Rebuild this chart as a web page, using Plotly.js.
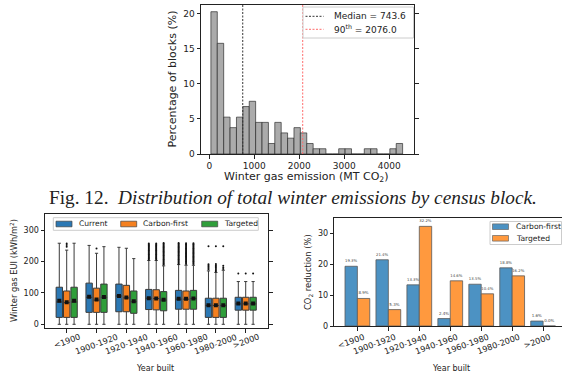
<!DOCTYPE html>
<html><head><meta charset="utf-8">
<script src="https://cdn.plot.ly/plotly-3.0.1.min.js"></script>
<style>html,body{margin:0;padding:0;background:#fff}#chart{width:562px;height:374px}</style>
</head><body><div id="chart"></div>
<script>
// ---------- Fig. 12 histogram ----------
const binCenters = [107,249,391,533,675,817,959,1101,1243,1385,1527,1669,1811,1953,2095,2237,2379,2521,2663,2805,2947,3089,3231,3373,3515,3657,3799,3941,4083,4225];
const binWidth = 142;
const blockPct = [20.30,15.79,5.26,3.76,5.26,6.77,7.52,4.51,4.51,1.50,4.51,3.01,2.26,3.76,3.01,1.50,0.75,0.75,0,0,0.75,0.75,0,0,0.75,0.75,0,0,0.75,1.50];
const medianValue = 743.6;
const p90Value = 2076.0;

// ---------- box plot ----------
const yearBins = ['<1900','1900-1920','1920-1940','1940-1960','1960-1980','1980-2000','>2000'];
const seriesNames = ['Current','Carbon-first','Targeted'];
const curLow = [0,0,0,0,0,0,0];
const curQ1  = [22,38,40,47,48,22,45];
const curMed = [71,86,90,83,80,60,65];
const curQ3  = [118,131,128,111,108,83,86];
const curUp  = [258,251,245,203,190,170,136];
const curMean= [75,88,90,83,81,61,66];
const curOut = [[],[],[],
  [206,209,212,215,218,221,224,227,230,233,236,239,242,245,248,251,254,257],
  [193,196,199,202,205,208,211,214,217,220,223,226,229,232,235,238,241,244,247,250,253,256,259],
  [175,179,183,187,191,248],[162]];

const cfLow = [0,0,0,0,0,0,0];
const cfQ1  = [22,38,40,46,48,22,45];
const cfMed = [69,77,84,82,80,60,65];
const cfQ3  = [106,115,124,110,106,83,86];
const cfUp  = [236,226,242,203,188,165,136];
const cfMean= [70,79,85,82,81,61,66];
const cfOut = [[247,252,257],[241],[],
  [206,209,212,215,218,221,224,227,230,233,236,239,242,245,248,251,254,257],
  [192,195,198,201,204,207,210,213,216,219,222,225,228,231,234,237,240,243,246,249,252,255,258],
  [168,172,176,180,184,188,192,248],[162]];

const tgLow = [0,0,0,0,0,0,0];
const tgQ1  = [22,38,35,43,48,22,45];
const tgMed = [71,86,72,77,82,60,65];
const tgQ3  = [118,128,106,104,108,83,86];
const tgUp  = [258,247,209,186,188,172,136];
const tgMean= [75,87,73,78,82,61,66];
const tgOut = [[],[],[],
  [190,193,196,199,202,205,208,211,214,217,220,223,226,229,232,235,238,241,244,247,250,253,256,259],
  [192,195,198,201,204,207,210,213,216,219,222,225,228,231,234,237,240,243,246,249,252,255,258],
  [176,181,186,248],[162]];

// ---------- CO2 reduction bars ----------
const barNames = ['Carbon-first','Targeted'];
const carbonFirst = [19.3,21.4,13.3,2.4,13.5,18.8,1.6];
const targeted    = [8.9,5.3,32.2,14.6,10.4,16.2,0.0];

const W = 562, H = 374;
const fx = p => p / W;
const fy = p => 1 - p / H;
const FONT = 'DejaVu Sans, sans-serif';
const TXT = '#222';
const histYRange = [0, 21.3];

const C_BLUE = '#2b78b4', C_ORANGE = '#f5801f', C_GREEN = '#2f9e3a';
const B_BLUE = '#4c92c3', B_ORANGE = '#ff993e';
const boxLine = {color: '#3a3a3a', width: 1};

function mainBox(name, q1, med, q3, lo, up, color, grp) {
  return {type: 'box', name: name, x: yearBins, q1: q1, median: med, q3: q3,
    lowerfence: lo, upperfence: up, boxpoints: false,
    fillcolor: color, line: boxLine, whiskerwidth: 0.5,
    xaxis: 'x2', yaxis: 'y2', showlegend: false,
    offsetgroup: grp, alignmentgroup: 'eui', hoverinfo: 'skip'};
}
function pointBox(xs, ys, grp, marker) {
  return {type: 'box', x: xs, y: ys, boxpoints: 'all', jitter: 0, pointpos: 0,
    fillcolor: 'rgba(0,0,0,0)', line: {width: 0, color: 'rgba(0,0,0,0)'}, whiskerwidth: 0,
    marker: marker, xaxis: 'x2', yaxis: 'y2', showlegend: false,
    offsetgroup: grp, alignmentgroup: 'eui', hoverinfo: 'skip'};
}
function outlierBox(out, grp) {
  const xs = [], ys = [];
  out.forEach((arr, i) => arr.forEach(v => { xs.push(yearBins[i]); ys.push(v); }));
  return pointBox(xs, ys, grp, {color: '#111', size: 2});
}
function meanBox(mean, grp) {
  return pointBox(yearBins, mean, grp, {symbol: 'square', size: 4, color: '#111'});
}

const traces = [
  {type: 'bar', x: binCenters, y: blockPct, width: binWidth,
   marker: {color: '#ababab', line: {color: 'rgba(40,40,40,0.85)', width: 0.8}},
   showlegend: false, hoverinfo: 'skip', xaxis: 'x', yaxis: 'y'},
  {type: 'scatter', mode: 'lines', x: [medianValue, medianValue], y: histYRange,
   line: {color: '#333', width: 1, dash: '2px,1.5px'}, xaxis: 'x', yaxis: 'y', showlegend: false},
  {type: 'scatter', mode: 'lines', x: [p90Value, p90Value], y: histYRange,
   line: {color: '#ff6b6b', width: 1, dash: '2px,1.5px'}, xaxis: 'x', yaxis: 'y', showlegend: false},

  mainBox(seriesNames[0], curQ1, curMed, curQ3, curLow, curUp, C_BLUE, 'cur'),
  mainBox(seriesNames[1], cfQ1, cfMed, cfQ3, cfLow, cfUp, C_ORANGE, 'cf'),
  mainBox(seriesNames[2], tgQ1, tgMed, tgQ3, tgLow, tgUp, C_GREEN, 'tg'),
  outlierBox(curOut, 'cur'), outlierBox(cfOut, 'cf'), outlierBox(tgOut, 'tg'),
  meanBox(curMean, 'cur'), meanBox(cfMean, 'cf'), meanBox(tgMean, 'tg'),

  {type: 'bar', name: barNames[0], x: yearBins, y: carbonFirst,
   marker: {color: B_BLUE, line: {color: '#5a5a5a', width: 0.8}},
   texttemplate: '%{y:.1f}%', textposition: 'outside', cliponaxis: false,
   textfont: {size: 4, color: '#444', family: FONT},
   xaxis: 'x3', yaxis: 'y3', showlegend: false, hoverinfo: 'skip'},
  {type: 'bar', name: barNames[1], x: yearBins, y: targeted,
   marker: {color: B_ORANGE, line: {color: '#5a5a5a', width: 0.8}},
   texttemplate: '%{y:.1f}%', textposition: 'outside', cliponaxis: false,
   textfont: {size: 4, color: '#444', family: FONT},
   xaxis: 'x3', yaxis: 'y3', showlegend: false, hoverinfo: 'skip'}
];

const axBase = {showgrid: false, zeroline: false, showline: true, linecolor: TXT, linewidth: 1,
  ticks: 'outside', ticklen: 3.5, tickwidth: 1, tickcolor: TXT, fixedrange: true};

function ann(text, x, y, size, extra) {
  return Object.assign({text: text, x: fx(x), y: fy(y), xref: 'paper', yref: 'paper',
    xanchor: 'center', yanchor: 'middle', showarrow: false,
    font: {family: FONT, size: size, color: TXT}}, extra || {});
}

const annotations = [
  ann('Fig. 12.\u00a0 <i>Distribution of total winter emissions by census block.</i>', 292.5, 197.5, 19.3,
      {font: {family: 'Liberation Serif, serif', size: 19.3, color: '#222'}}),
  ann('Winter gas emission (MT CO<sub>2</sub>)', 306.7, 176.5, 11),
  ann('Percentage of blocks (%)', 172, 79.5, 11, {textangle: -90}),
  ann('Winter gas EUI (kWh/m<sup>2</sup>)', 14, 271, 8.3, {textangle: -90}),
  ann('Year built', 155, 368, 8),
  ann('CO<sub>2</sub> reduction (%)', 308, 272, 8.4, {textangle: -90}),
  ann('Year built', 451, 368, 8)
];

// rotated category labels (20 deg): centred under box groups, right-aligned under bar groups
const LBL_SIZE = 8.2, LBL_ANG = 20, LBL_TOP = 333;
const ctx = document.createElement('canvas').getContext('2d');
ctx.font = LBL_SIZE + 'px "DejaVu Sans"';
const th = LBL_ANG * Math.PI / 180;
yearBins.forEach(c => {
  const L = ctx.measureText(c).width, h = LBL_SIZE * 0.75;
  const rotW = L * Math.cos(th) + h * Math.sin(th);
  const rotH = L * Math.sin(th) + h * Math.cos(th);
  const common = {text: c, textangle: -LBL_ANG, showarrow: false, xanchor: 'center', yanchor: 'middle',
    yref: 'paper', y: fy(LBL_TOP + rotH / 2), font: {family: FONT, size: LBL_SIZE, color: TXT}};
  annotations.push(Object.assign({}, common, {x: c, xref: 'x2', xshift: 0}));
  annotations.push(Object.assign({}, common, {x: c, xref: 'x3', xshift: 8 - rotW / 2}));
});

// ---------- legends (drawn as boxes + swatches + text) ----------
const shapes = [];
function rectPx(x0, y0, x1, y1, fill, lineColor, lw) {
  shapes.push({type: 'rect', xref: 'paper', yref: 'paper', x0: fx(x0), x1: fx(x1), y0: fy(y0), y1: fy(y1),
    fillcolor: fill, line: {color: lineColor, width: lw}, layer: 'above'});
}
function linePx(x0, x1, y, color) {
  shapes.push({type: 'line', xref: 'paper', yref: 'paper', x0: fx(x0), x1: fx(x1), y0: fy(y), y1: fy(y),
    line: {color: color, width: 1, dash: '2px,1.5px'}, layer: 'above'});
}
function legText(text, x, y, size) {
  annotations.push({text: text, x: fx(x), y: fy(y), xref: 'paper', yref: 'paper',
    xanchor: 'left', yanchor: 'middle', showarrow: false, font: {family: FONT, size: size, color: TXT}});
}
// top legend
rectPx(303, 7, 413.5, 38, 'rgba(255,255,255,0.85)', '#cccccc', 1);
linePx(305.5, 323.5, 16.3, '#333');
legText('Median = ' + medianValue.toFixed(1), 331.5, 16.3, 9);
linePx(305.5, 323.5, 29.3, '#ff6b6b');
legText('90<sup>th</sup> = ' + p90Value.toFixed(1), 331.5, 29.3, 9);
// box legend
rectPx(53.3, 217.7, 258.3, 230.3, 'rgba(255,255,255,0.85)', '#cccccc', 1);
[[56, C_BLUE], [120.7, C_ORANGE], [201.7, C_GREEN]].forEach((p, i) => {
  rectPx(p[0], 221.2, p[0] + 16, 226.8, p[1], '#444', 0.7);
  legText(seriesNames[i], p[0] + 20.5, 224, 7.6);
});
// bar legend
rectPx(490, 221.5, 561.5, 244.5, 'rgba(255,255,255,0.85)', '#cccccc', 1);
[[226.7, B_BLUE], [238.3, B_ORANGE]].forEach((p, i) => {
  rectPx(492.5, p[0] - 2.8, 508.5, p[0] + 2.8, p[1], '#666', 0.7);
  legText(barNames[i], 514, p[0], 7.6);
});

const layout = {
  width: W, height: H, margin: {l: 0, r: 0, t: 0, b: 0},
  paper_bgcolor: '#fff', plot_bgcolor: '#fff',
  font: {family: FONT, color: TXT},
  bargap: 0.2, bargroupgap: 0, barmode: 'group',
  boxmode: 'group', boxgap: 0.256, boxgroupgap: 0.14,
  showlegend: false,
  xaxis: Object.assign({}, axBase, {domain: [fx(201), fx(414)], range: [-184, 4549], dtick: 1000,
    mirror: true, anchor: 'y', tickfont: {size: 9, color: TXT}}),
  yaxis: Object.assign({}, axBase, {domain: [fy(154), fy(4.7)], range: histYRange, dtick: 5,
    mirror: 'ticks', anchor: 'x', tickfont: {size: 9, color: TXT}}),
  xaxis2: Object.assign({}, axBase, {domain: [fx(45), fx(268.3)], type: 'category', range: [-0.727, 6.757],
    categoryorder: 'array', categoryarray: yearBins,
    mirror: true, anchor: 'y2', showticklabels: false}),
  yaxis2: Object.assign({}, axBase, {domain: [fy(328.3), fy(214.3)], range: [-12.7, 350],
    tickvals: [0, 100, 200, 300], mirror: 'ticks', anchor: 'x2', tickfont: {size: 8, color: TXT}}),
  xaxis3: Object.assign({}, axBase, {domain: [fx(334.3), 1], type: 'category', range: [-0.746, 6.61],
    categoryorder: 'array', categoryarray: yearBins,
    mirror: true, anchor: 'y3', showticklabels: false}),
  yaxis3: Object.assign({}, axBase, {domain: [fy(326), fy(217.7)], range: [0, 35], dtick: 10,
    anchor: 'x3', tickfont: {size: 8, color: TXT}}),
  annotations: annotations,
  shapes: shapes
};

Plotly.newPlot('chart', traces, layout, {staticPlot: true, displayModeBar: false});
</script></body></html>
